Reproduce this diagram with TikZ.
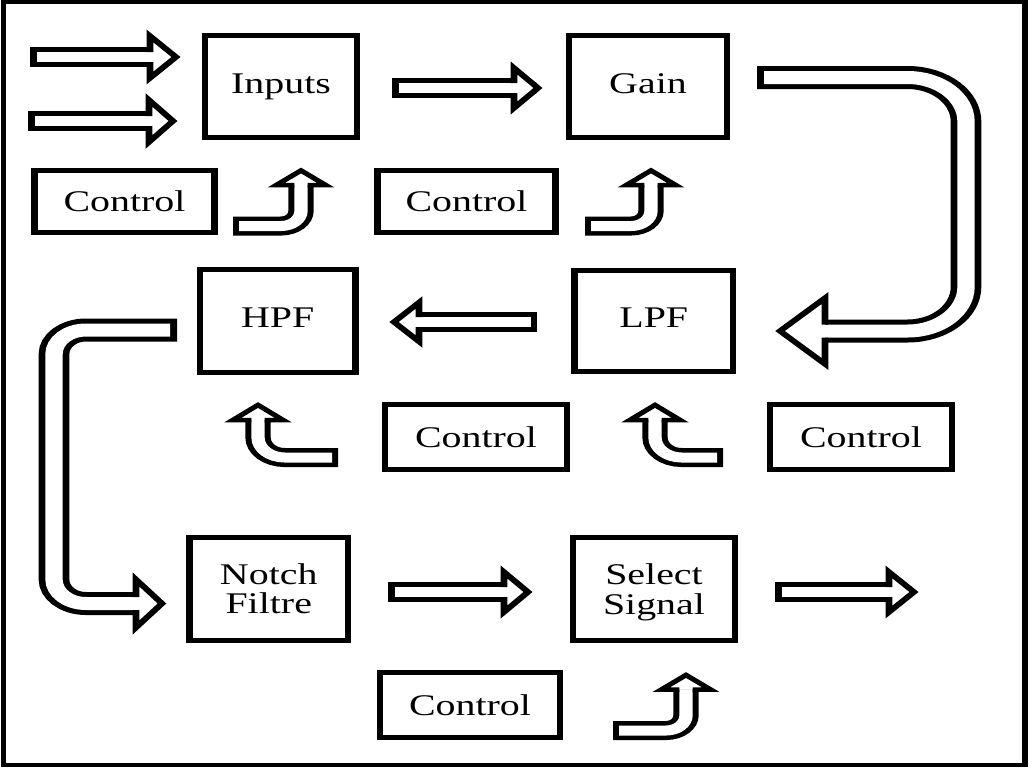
\documentclass[tikz,border=0pt]{standalone}
\usepackage{fontspec}
\setmainfont{Liberation Serif}
\tikzset{
  box/.style={draw, line width=5pt, inner sep=0pt, font=\fontsize{30}{29}\selectfont,
              text height=13.5pt, text depth=0pt},
  ctrl/.style={box, text height=20pt, minimum height=65pt},
  two/.style={box, text height=20pt, text depth=29pt},
  sblk/.style={line width=20pt, black},
  swht/.style={line width=10pt, white},
  shead/.style={line width=5pt, fill=white, draw=black, line join=miter},
  jblk/.style={line width=19pt, black},
  jwht/.style={line width=10pt, white},
  jhead/.style={line width=4.5pt, fill=white, draw=black, line join=miter},
  bblk/.style={line width=23pt, black},
  bwht/.style={line width=13pt, white},
  bhead/.style={line width=5pt, fill=white, draw=black, line join=miter},
}
% straight arrow pointing right: name, y, tail x, tip x, head base x, head half width
\newcommand\ArrR[6]{%
  \draw[sblk] (#3,#2) -- (#5,#2);
  \draw[swht] (#3+6.5,#2) -- (#5,#2);
  \filldraw[shead] (#5,#2-5) -- (#5,#2-#6) -- (#4,#2) coordinate (#1) -- (#5,#2+#6) -- (#5,#2+5);}
% straight arrow pointing left
\newcommand\ArrL[6]{%
  \draw[sblk] (#3,#2) -- (#5,#2);
  \draw[swht] (#3-6.5,#2) -- (#5,#2);
  \filldraw[shead] (#5,#2-5) -- (#5,#2-#6) -- (#4,#2) coordinate (#1) -- (#5,#2+#6) -- (#5,#2+5);}
% bent up arrow, tail at left: name, tail x, tail y, shaft x, head base y, tip y, head half, radius
\newcommand\JL[8]{%
  \draw[jblk, rounded corners=#8] (#2,#3) -- (#4,#3) -- (#4,#5);
  \draw[jwht, rounded corners=#8] (#2+6,#3) -- (#4,#3) -- (#4,#5);
  \filldraw[jhead] (#4-6.6,#5) -- (#4-#7,#5) -- (#4,#6) coordinate (#1) -- (#4+#7,#5) -- (#4+6.6,#5);}
% bent up arrow, tail at right
\newcommand\JR[8]{%
  \draw[jblk, rounded corners=#8] (#2,#3) -- (#4,#3) -- (#4,#5);
  \draw[jwht, rounded corners=#8] (#2-6,#3) -- (#4,#3) -- (#4,#5);
  \filldraw[jhead] (#4-6.6,#5) -- (#4-#7,#5) -- (#4,#6) coordinate (#1) -- (#4+#7,#5) -- (#4+6.6,#5);}
\begin{document}
\begin{tikzpicture}[x=1pt,y=-1pt]
\fill[white] (0,0) rectangle (1032,769);
\useasboundingbox (0,0) rectangle (1032,769);
\begin{scope}[transform canvas={xscale=1.33}, x=0.75188pt]
  % frame
  \draw[line width=4.5pt] (3.5,2) rectangle (1025,765);
  % boxes
  \node[box, minimum width=114.3pt, minimum height=102pt] (inputs) at (281,86.5) {Inputs};
  \node[box, minimum width=118.8pt, minimum height=102pt] (gain) at (648,86.5) {Gain};
  \node[ctrl, minimum width=135.3pt, minimum height=62pt] (c1) at (124.5,201.5) {Control};
  \node[ctrl, minimum width=133.8pt, minimum height=62pt] (c2) at (466.5,201.5) {Control};
  \node[box, minimum width=116.9pt, minimum height=103.5pt, text height=14pt] (hpf) at (277.75,320.75) {HPF};
  \node[box, minimum width=119.2pt, minimum height=101.5pt, text height=14pt] (lpf) at (653.75,320.75) {LPF};
  \node[ctrl, minimum width=136.8pt] (c3) at (476,437) {Control};
  \node[ctrl, minimum width=136.8pt] (c4) at (861,437) {Control};
  \node[two, minimum width=119.2pt, minimum height=102.5pt] (notch) at (268.75,588.75)
     {\begin{tabular}[t]{@{}c@{}}Notch\\Filtre\end{tabular}};
  \node[two, minimum width=121.8pt, minimum height=103pt] (select) at (654,589)
     {\begin{tabular}[t]{@{}c@{}}Select\\Signal\end{tabular}};
  \node[ctrl, minimum width=135.3pt] (c5) at (470,705) {Control};
  % straight arrows
  \ArrR{a1}{57}{30}{176}{150}{21}
  \ArrR{a2}{121}{28}{173}{149}{21}
  \ArrR{a3}{88}{392}{538}{514}{20}
  \ArrL{a4}{322}{537}{394}{419}{19.5}
  \ArrR{a5}{592}{388}{528}{504}{20}
  \ArrR{a6}{592}{775}{914}{889}{20}
  % bent control arrows
  \JL{j1}{233}{226}{301}{185}{170.5}{24.5}{15pt}
  \JL{j2}{585}{226}{651}{185}{170.5}{24.5}{15pt}
  \JR{j3}{338}{457.5}{258}{420}{405}{25}{20pt}
  \JR{j4}{723}{457.5}{655}{420}{405}{25}{20pt}
  \JL{j5}{613}{730.5}{686}{689.5}{675}{24.5}{15pt}
  % Gain -> LPF
  \draw[bblk, rounded corners=44pt] (757,77.5) -- (966,77.5) -- (966,331) -- (825,331);
  \draw[bwht, rounded corners=44pt] (764,77.5) -- (966,77.5) -- (966,331) -- (825,331);
  \filldraw[bhead] (825,324.5) -- (825,298) -- (780,331) coordinate (b1) -- (825,364) -- (825,337.5);
  % HPF -> Notch
  \draw[bblk, rounded corners=24pt] (177,330) -- (54,330) -- (54,603.5) -- (136,603.5);
  \draw[bwht, rounded corners=24pt] (170,330) -- (54,330) -- (54,603.5) -- (136,603.5);
  \filldraw[bhead] (136,597) -- (136,579.5) -- (162,603.5) coordinate (b2) -- (136,627.5) -- (136,610);
\end{scope}
\end{tikzpicture}
\end{document}
